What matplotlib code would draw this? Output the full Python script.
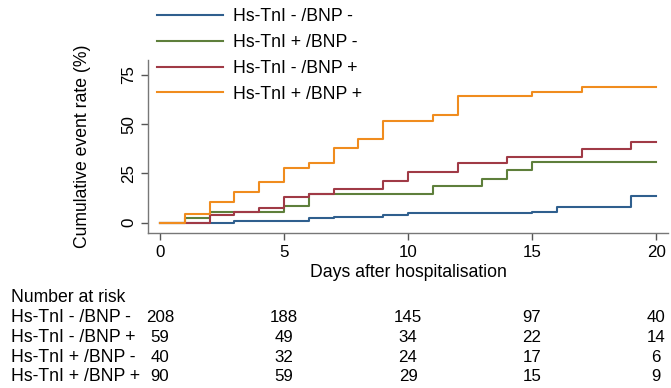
import matplotlib
matplotlib.use("Agg")
import matplotlib.pyplot as plt
import matplotlib.transforms as mtransforms

plt.rcParams['font.family'] = ['Liberation Sans', 'DejaVu Sans']

# Kaplan-Meier style cumulative event rates (%), step after each day
labels = ['Hs-TnI - /BNP -', 'Hs-TnI + /BNP -', 'Hs-TnI - /BNP +', 'Hs-TnI + /BNP +']
colors = ['#2f5f8e', '#5e7f3b', '#a03a46', '#f08c1e']

days_nn = [0, 3, 6, 7, 9, 10, 15, 16, 19, 20]
rate_nn = [0, 0.9, 2.2, 2.7, 4.0, 4.7, 5.2, 7.9, 13.5, 13.5]

days_pn = [0, 1, 2, 5, 6, 11, 13, 14, 15, 20]
rate_pn = [0, 2.4, 5.2, 8.6, 14.5, 18.7, 22.4, 26.6, 30.8, 30.8]

days_np = [0, 2, 3, 4, 5, 6, 7, 9, 10, 12, 14, 17, 19, 20]
rate_np = [0, 4.0, 5.2, 7.4, 13.0, 14.8, 17.0, 21.2, 25.9, 30.4, 33.3, 37.5, 40.9, 40.9]

days_pp = [0, 1, 2, 3, 4, 5, 6, 7, 8, 9, 11, 12, 15, 17, 20]
rate_pp = [0, 4.4, 10.6, 15.6, 20.9, 27.7, 30.4, 37.7, 42.2, 51.6, 54.8, 64.0, 66.4, 68.8, 68.8]

# number at risk table
risk_days = [0, 5, 10, 15, 20]
risk_labels = ['Hs-TnI - /BNP -', 'Hs-TnI - /BNP +', 'Hs-TnI + /BNP -', 'Hs-TnI + /BNP +']
risk_counts = [
    [208, 188, 145, 97, 40],
    [59, 49, 34, 22, 14],
    [40, 32, 24, 17, 6],
    [90, 59, 29, 15, 9],
]

FS = 12.7
W, H = 671, 388
fig = plt.figure(figsize=(W / 100, H / 100), dpi=100)
ax = fig.add_axes([148 / W, 1 - 233 / H, (668 - 148) / W, (233 - 60) / H])

series = [(days_nn, rate_nn), (days_pn, rate_pn), (days_np, rate_np), (days_pp, rate_pp)]
handles = []
for (d, r), lab, c in zip(series, labels, colors):
    h, = ax.step(d, r, where='post', color=c, lw=1.5, label=lab)
    handles.append(h)

ax.set_xlim(-0.48, 20.48)
ax.set_ylim(-5.2, 82.5)
ax.set_xticks([0, 5, 10, 15, 20])
ax.set_yticks([0, 25, 50, 75])
for s in ['top', 'right']:
    ax.spines[s].set_visible(False)
for s in ['left', 'bottom']:
    ax.spines[s].set_color('#777777')
    ax.spines[s].set_linewidth(1.0)
ax.tick_params(colors='#555555', labelcolor='black', length=5, width=1.0, labelsize=12.2)
plt.setp(ax.get_yticklabels(), rotation=90, va='center')

ax.set_xlabel('Days after hospitalisation', fontsize=FS, labelpad=3)
ax.set_ylabel('Cumulative event rate (%)', fontsize=FS, labelpad=22)

fig.legend(handles=handles, loc='upper left', bbox_to_anchor=(150 / W, 1 - 1 / H),
           frameon=False, fontsize=FS, handlelength=3.75, handletextpad=0.55,
           labelspacing=0.5, borderaxespad=0)

# risk table
trans = mtransforms.blended_transform_factory(ax.transData, fig.transFigure)
fig.text(11 / W, 1 - 297 / H, 'Number at risk', fontsize=FS, va='center', ha='left')
for i, (lab, counts) in enumerate(zip(risk_labels, risk_counts)):
    y = 1 - (318 + 19.5 * i) / H
    fig.text(11 / W, y, lab, fontsize=FS, va='center', ha='left')
    for d, n in zip(risk_days, counts):
        ax.text(d, y, str(n), transform=trans, fontsize=12.2, va='center', ha='center')

fig.savefig('out.png', dpi=100)
